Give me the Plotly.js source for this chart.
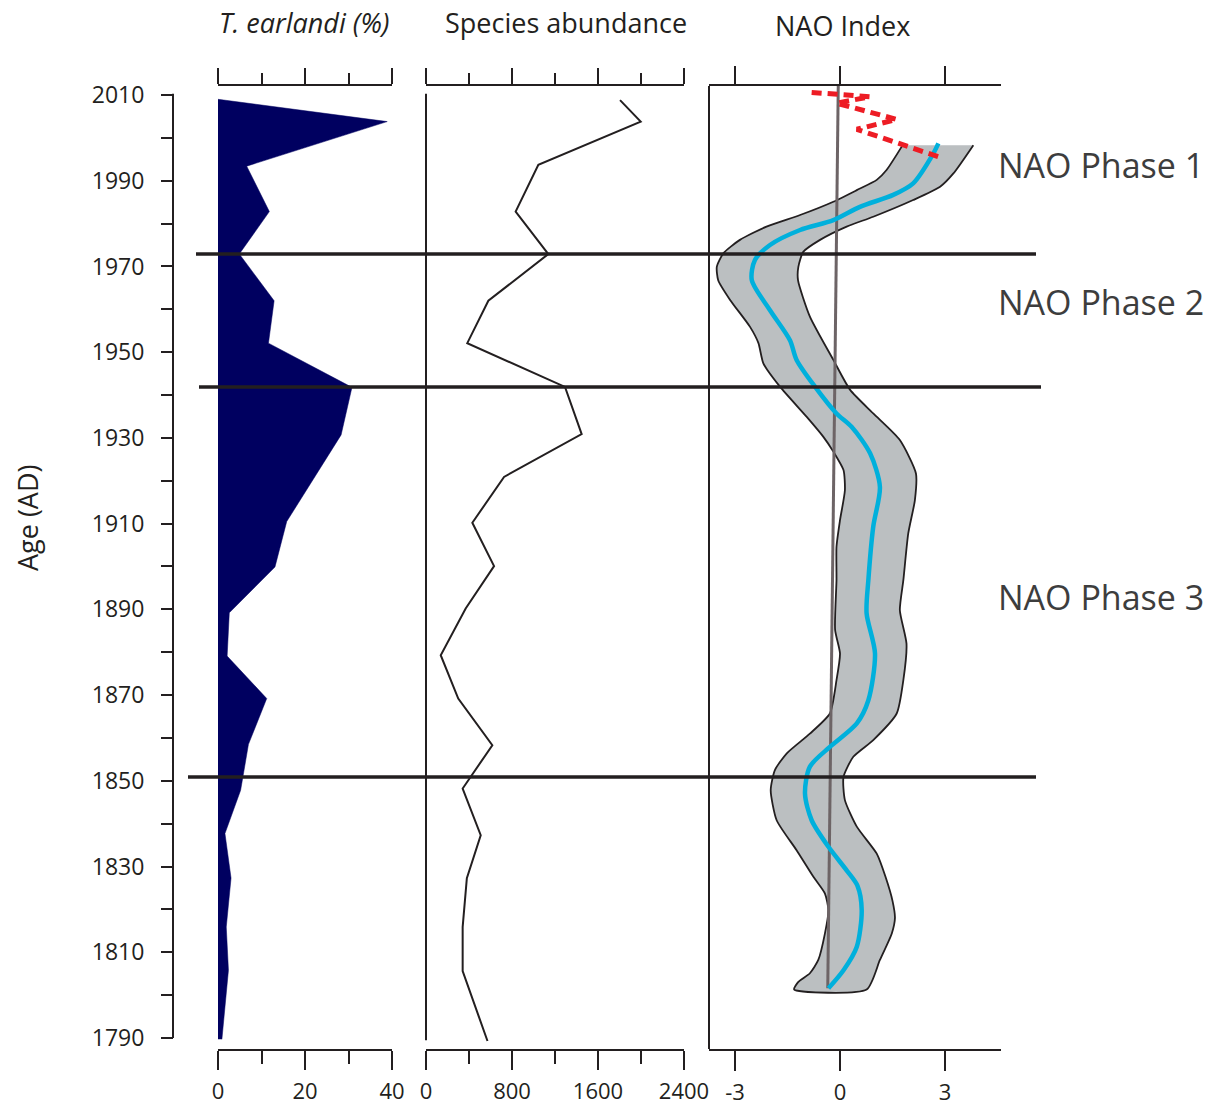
<!DOCTYPE html>
<html>
<head>
<meta charset="utf-8">
<script src="https://cdn.plot.ly/plotly-3.0.1.min.js"></script>
<style>html,body{margin:0;padding:0;background:#fff;}#chart{width:1221px;height:1106px;}</style>
</head>
<body>
<div id="chart"></div>
<script>
// ---------- DATA ----------
const earlandiYears = [2009.0, 2003.8, 1993.4, 1982.8, 1972.9, 1962.0, 1952.1, 1941.8, 1930.7, 1910.5, 1899.9, 1889.2, 1879.1, 1869.2, 1858.5, 1847.8, 1837.7, 1827.3, 1815.9, 1805.8, 1789.7];
const earlandiPct   = [0,      38.9,   6.6,    11.8,   4.9,    12.9,   11.6,   30.8,   28.3,   15.8,   13.1,   2.6,    2.1,    11.2,   7.0,    5.2,    1.6,    3.0,    1.9,    2.4,    0.9];

const abundanceYears = [2008.8, 2003.8, 1993.7, 1982.8, 1972.9, 1962.0, 1952.1, 1941.9, 1930.9, 1920.9, 1910.2, 1900.1, 1890.2, 1879.3, 1869.2, 1858.3, 1848.2, 1837.3, 1827.3, 1815.9, 1805.6, 1789.3];
const abundanceCount = [1805,   1997,   1045,   834,    1138,   580,    384,    1293,   1448,   726,    431,    633,    369,    137,    300,    617,    341,    509,    380,    341,    341,    572];

const naoCenterYears = [1998.7, 1996.4, 1989.4, 1986.7, 1983.9, 1980.8, 1978.5, 1975.0, 1971.5, 1966.8, 1959.8, 1952.8, 1948.2, 1941.9, 1935.7, 1932.6, 1926.4, 1918.6, 1909.3, 1896.8, 1889.1, 1879.7, 1868.8, 1863.4, 1857.9, 1853.3, 1847.0, 1840.8, 1834.6, 1829.0, 1825.5, 1819.8, 1811.3, 1805.8, 1801.6];
const naoCenter      = [2.81,   2.67,   2.09,   1.52,   0.57,   -0.19,  -1.14,  -2.0,   -2.43,  -2.52,  -2.0,   -1.43,  -1.24,  -0.71,  -0.10,  0.33,   0.86,   1.14,   0.95,   0.81,   0.76,   1.0,    0.81,   0.48,   -0.29,  -0.86,  -1.0,   -0.81,  -0.33,  0.2,    0.5,    0.62,   0.48,   0.10,   -0.33];

const naoUpperYears = [1998.3, 1991.7, 1988.6, 1985.5, 1981.6, 1979.3, 1976.2, 1973.4, 1969.9, 1966.8, 1958.3, 1948.2, 1941.2, 1935.7, 1929.5, 1921.7, 1915.5, 1907.7, 1896.8, 1889.8, 1882.0, 1873.5, 1865.7, 1859.5, 1855.6, 1850.9, 1845.5, 1839.3, 1833.0, 1827.6, 1822.0, 1818.0, 1814.4, 1808.2, 1801.3];
const naoUpper      = [3.81,   3.24,   2.86,   2.09,   0.95,   0.19,   -0.57,  -1.05,  -1.19,  -1.2,   -0.86,  -0.19,  0.29,   0.95,   1.71,   2.17,   2.14,   1.95,   1.81,   1.71,   1.9,    1.81,   1.62,   0.95,   0.38,   0.1,    0.14,   0.48,   1.05,   1.3,    1.5,    1.57,   1.48,   1.14,   0.76];

const naoLowerYears = [1998.3, 1992.5, 1990.2, 1987.8, 1985.1, 1982.0, 1979.3, 1976.2, 1973.1, 1969.9, 1966.8, 1962.2, 1955.9, 1952.1, 1947.4, 1941.9, 1934.9, 1930.3, 1926.8, 1922.5, 1917.8, 1910.8, 1904.6, 1896.8, 1885.2, 1879.7, 1873.5, 1865.7, 1861.0, 1856.4, 1852.5, 1847.8, 1840.8, 1833.8, 1827.6, 1823.7, 1819.8, 1814.4, 1808.2, 1805.1, 1803.1, 1801.3];
const naoLower      = [1.79,   1.33,   1.05,   0.48,   -0.19,  -1.14,  -2.1,   -2.86,  -3.33,  -3.52,  -3.48,  -3.14,  -2.57,  -2.33,  -2.19,  -1.71,  -0.95,  -0.48,  -0.19,  0.1,    0.14,   0.0,    -0.1,   -0.1,   -0.14,  0.0,    -0.1,   -0.29,  -0.86,  -1.52,  -1.86,  -1.98,  -1.81,  -1.24,  -0.76,  -0.43,  -0.33,  -0.43,  -0.62,  -0.86,  -1.19,  -1.31];

const naoRecentYears = [2010.6, 2009.6, 2008.1, 2004.3, 2002.0, 1995.6];
const naoRecent      = [-0.81,  0.86,   -0.10,  1.62,   0.48,   2.81];

const trendYears  = [2012.1, 1801.6];
const trendValues = [-0.05,  -0.35];

const phaseBoundaries = [1972.9, 1941.9, 1850.9];
const phaseLabels = ['NAO Phase 1', 'NAO Phase 2', 'NAO Phase 3'];
const phaseLabelYears = [1993.7, 1961.7, 1892.9];

const panelTitles = ['<i>T. earlandi (%)</i>', 'Species abundance', 'NAO Index'];

const naoTickVals = [-3, 0, 3];
const naoTickText = ['-3', '0', '3'];

// ---------- LAYOUT HELPERS ----------
const W = 1221, H = 1106;
const px = v => v / W;
const py = v => 1 - v / H;
const ink = '#231f20';
const FONT = 'Open Sans, Noto Sans, sans-serif';
const yDomain = [py(1049), py(86)];

const bandX = naoUpper.concat(naoLower.slice().reverse());
const bandY = naoUpperYears.concat(naoLowerYears.slice().reverse());

const traces = [
  { x: earlandiPct, y: earlandiYears, xaxis: 'x', yaxis: 'y', type: 'scatter', mode: 'lines',
    fill: 'tozerox', fillcolor: '#000060', line: {color: '#000060', width: 0.5}, hoverinfo: 'skip' },
  { x: abundanceCount, y: abundanceYears, xaxis: 'x2', yaxis: 'y', type: 'scatter', mode: 'lines',
    line: {color: ink, width: 2}, hoverinfo: 'skip' },
  { x: bandX, y: bandY, xaxis: 'x3', yaxis: 'y', type: 'scatter', mode: 'lines',
    fill: 'toself', fillcolor: '#bbbfc1', line: {color: ink, width: 1.8, shape: 'spline', smoothing: 0.6}, hoverinfo: 'skip' },
  { x: trendValues, y: trendYears, xaxis: 'x3', yaxis: 'y', type: 'scatter', mode: 'lines',
    line: {color: '#6d6466', width: 3}, hoverinfo: 'skip' },
  { x: naoCenter, y: naoCenterYears, xaxis: 'x3', yaxis: 'y', type: 'scatter', mode: 'lines',
    line: {color: '#00b0dc', width: 4.5, shape: 'spline', smoothing: 0.8}, hoverinfo: 'skip' },
  { x: naoRecent, y: naoRecentYears, xaxis: 'x3', yaxis: 'y', type: 'scatter', mode: 'lines',
    line: {color: '#ed1c24', width: 5, dash: '10px,6px'}, hoverinfo: 'skip' },
  // empty traces so the top axes get drawn
  { x: [], y: [], xaxis: 'x4', yaxis: 'y', type: 'scatter', showlegend: false },
  { x: [], y: [], xaxis: 'x5', yaxis: 'y', type: 'scatter', showlegend: false },
  { x: [], y: [], xaxis: 'x6', yaxis: 'y', type: 'scatter', showlegend: false }
];

function xAx(domain, range, dtick, minorDtick, side, len, minorLen, labels, over) {
  const a = {
    domain: domain, range: range, anchor: 'y', side: side,
    showline: true, linecolor: ink, linewidth: 2,
    ticks: 'outside', ticklen: len, tickwidth: 2, tickcolor: ink,
    dtick: dtick, tick0: 0,
    showgrid: false, zeroline: false, fixedrange: true,
    showticklabels: labels,
    tickfont: {family: FONT, size: 22, color: ink},
    ticklabelstandoff: 3
  };
  if (minorDtick) a.minor = {dtick: minorDtick, tick0: 0, ticks: 'outside', ticklen: minorLen, tickwidth: 2, tickcolor: ink, showgrid: false};
  if (over) { a.overlaying = over; a.matches = over; }
  return a;
}

const dom1 = [px(218), px(392)], dom2 = [px(426), px(684)], dom3 = [px(709), px(1001)];
const r1 = [0, 40], r2 = [0, 2400], r3 = [(709 - 840) / 35, (1001 - 840) / 35];

const shapes = [
  // y-axis spine
  {type: 'line', xref: 'paper', yref: 'y', x0: px(173), x1: px(173), y0: 1790, y1: 2010.3, line: {color: ink, width: 2}},
  // species abundance zero line
  {type: 'line', xref: 'paper', yref: 'y', x0: px(426), x1: px(426), y0: 1789.5, y1: 2010.3, line: {color: ink, width: 2}},
  // NAO frame left side
  {type: 'line', xref: 'paper', yref: 'paper', x0: px(709), x1: px(709), y0: yDomain[0], y1: yDomain[1], line: {color: ink, width: 2}}
];
const phaseExtents = [[196, 1036], [199, 1041], [188, 1036]];
phaseBoundaries.forEach((yr, i) => shapes.push({
  type: 'line', layer: 'above', xref: 'paper', yref: 'y',
  x0: px(phaseExtents[i][0]), x1: px(phaseExtents[i][1]), y0: yr, y1: yr,
  line: {color: ink, width: 3.5}
}));

const annotations = [];
const titleX = [304, 566, 842];
const titleY = [22, 22, 26];
panelTitles.forEach((t, i) => annotations.push({
  text: t, xref: 'paper', yref: 'paper', x: px(titleX[i]), y: py(titleY[i]),
  xanchor: 'center', yanchor: 'middle', showarrow: false,
  font: {family: FONT, size: 27, color: ink}
}));
phaseLabels.forEach((t, i) => annotations.push({
  text: t, xref: 'paper', yref: 'y', x: px(996), y: phaseLabelYears[i],
  xanchor: 'left', yanchor: 'middle', showarrow: false,
  font: {family: FONT, size: 34, color: '#3d3d3d'}
}));
annotations.push({
  text: 'Age (AD)', xref: 'paper', yref: 'paper', x: px(27), y: py(518),
  xanchor: 'center', yanchor: 'middle', textangle: -90, showarrow: false,
  font: {family: FONT, size: 27, color: ink}
});

const naoBottom = xAx(dom3, r3, 3, null, 'bottom', 20, 0, true);
naoBottom.tickmode = 'array';
naoBottom.tickvals = naoTickVals;
naoBottom.ticktext = naoTickText;

const layout = {
  width: W, height: H,
  margin: {l: 0, r: 0, t: 0, b: 0},
  paper_bgcolor: '#ffffff', plot_bgcolor: 'rgba(0,0,0,0)',
  showlegend: false,
  xaxis:  xAx(dom1, r1, 20, 10, 'bottom', 19, 13, true),
  xaxis2: xAx(dom2, r2, 800, 400, 'bottom', 19, 13, true),
  xaxis3: naoBottom,
  xaxis4: xAx(dom1, r1, 20, 10, 'top', 16, 11, false, 'x'),
  xaxis5: xAx(dom2, r2, 800, 400, 'top', 16, 11, false, 'x2'),
  xaxis6: xAx(dom3, r3, 3, null, 'top', 18, 0, false, 'x3'),
  yaxis: {
    domain: yDomain, range: [1787.43, 2012.1], anchor: 'free', position: px(173),
    showline: false, showgrid: false, zeroline: false, fixedrange: true,
    ticks: 'outside', ticklen: 12, tickwidth: 2, tickcolor: ink,
    dtick: 20, tick0: 1790,
    minor: {dtick: 10, tick0: 1790, ticks: 'outside', ticklen: 12, tickwidth: 2, tickcolor: ink, showgrid: false},
    tickfont: {family: FONT, size: 23, color: ink},
    ticklabelstandoff: 12
  },
  shapes: shapes,
  annotations: annotations
};

Plotly.newPlot('chart', traces, layout, {staticPlot: true, displayModeBar: false});
</script>
</body>
</html>
